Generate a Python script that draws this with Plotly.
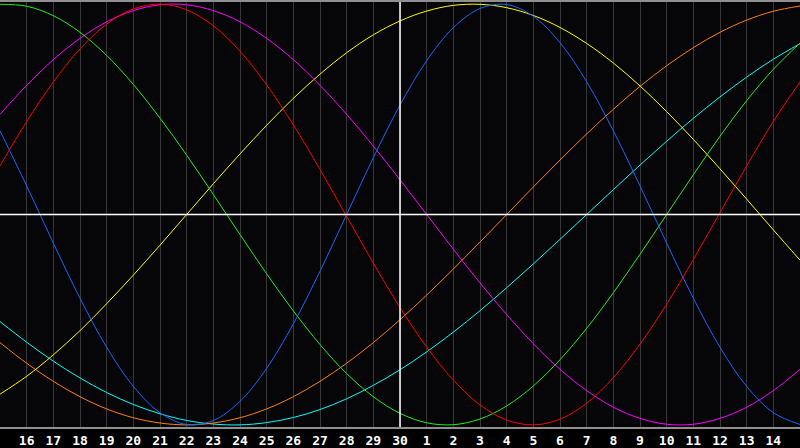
import plotly.graph_objects as go

# day index 0..30 (x=0 is the 15th, x=30 is the 15th of next month)
days = list(range(31))
tick_pos = list(range(1, 30))
tick_labels = [str(d) for d in range(16, 31)] + [str(d) for d in range(1, 15)]
today_pos = 15

red = [0.231, 0.442, 0.630, 0.787, 0.905, 0.977, 1.000, 0.973, 0.897, 0.776, 0.616,
       0.426, 0.214, -0.009, -0.231, -0.442, -0.630, -0.787, -0.905, -0.977, -1.000,
       -0.973, -0.897, -0.776, -0.616, -0.426, -0.214, 0.009, 0.231, 0.442, 0.630]
green = [0.999, 0.990, 0.945, 0.866, 0.756, 0.618, 0.458, 0.282, 0.095, -0.095, -0.282,
         -0.458, -0.618, -0.756, -0.866, -0.945, -0.990, -0.999, -0.972, -0.910, -0.815,
         -0.690, -0.541, -0.372, -0.189, 0.000, 0.189, 0.372, 0.541, 0.690, 0.815]
blue = [0.398, 0.136, -0.136, -0.398, -0.631, -0.817, -0.942, -0.998, -0.979, -0.888, -0.731,
        -0.520, -0.270, 0.000, 0.270, 0.520, 0.731, 0.888, 0.979, 0.998, 0.942,
        0.817, 0.631, 0.398, 0.136, -0.136, -0.398, -0.631, -0.817, -0.942, -0.998]
magenta = [0.476, 0.614, 0.736, 0.837, 0.916, 0.969, 0.997, 0.997, 0.969, 0.916, 0.837,
           0.736, 0.614, 0.476, 0.325, 0.165, 0.000, -0.165, -0.325, -0.476, -0.614,
           -0.736, -0.837, -0.916, -0.969, -0.997, -0.997, -0.969, -0.916, -0.837, -0.736]
yellow = [-0.854, -0.769, -0.667, -0.552, -0.424, -0.288, -0.146, 0.000, 0.146, 0.288, 0.424,
          0.552, 0.667, 0.769, 0.854, 0.920, 0.967, 0.994, 0.999, 0.983, 0.946,
          0.889, 0.813, 0.720, 0.611, 0.489, 0.357, 0.217, 0.073, -0.073, -0.217]
orange = [-0.609, -0.707, -0.793, -0.866, -0.924, -0.966, -0.991, -1.000, -0.991, -0.966, -0.924,
          -0.866, -0.793, -0.707, -0.609, -0.500, -0.383, -0.259, -0.131, 0.000, 0.131,
          0.259, 0.383, 0.500, 0.609, 0.707, 0.793, 0.866, 0.924, 0.966, 0.991]
cyan = [-0.509, -0.607, -0.697, -0.777, -0.846, -0.903, -0.947, -0.979, -0.996, -1.000, -0.989,
        -0.965, -0.927, -0.876, -0.812, -0.738, -0.653, -0.559, -0.457, -0.348, -0.235,
        -0.118, 0.000, 0.118, 0.235, 0.348, 0.457, 0.559, 0.653, 0.738, 0.812]

series = [
    (cyan, "#00ffff"),
    (orange, "#ff8010"),
    (yellow, "#ffff00"),
    (magenta, "#ff00ff"),
    (green, "#22ee22"),
    (blue, "#1a66ff"),
    (red, "#ff0000"),
]

fig = go.Figure()
for vals, col in series:
    fig.add_trace(go.Scatter(x=days, y=vals, mode="lines",
                             line=dict(color=col, width=1, shape="spline"),
                             hoverinfo="skip", showlegend=False))

fig.add_shape(type="line", xref="x", yref="paper", x0=today_pos, x1=today_pos, y0=0, y1=1,
              line=dict(color="#ffffff", width=1.5), layer="above")
fig.add_shape(type="line", xref="paper", yref="y", x0=0, x1=1, y0=0, y1=0,
              line=dict(color="#ffffff", width=1.5), layer="above")

fig.update_layout(
    width=800, height=448,
    margin=dict(l=0, r=0, t=0, b=20),
    paper_bgcolor="#000000",
    plot_bgcolor="#060608",
    showlegend=False,
    xaxis=dict(range=[0, 30], tickmode="array", tickvals=tick_pos, ticktext=tick_labels,
               showgrid=True, gridcolor="#383838", gridwidth=1, zeroline=False,
               showline=True, linecolor="#909090", linewidth=2, mirror=True,
               ticks="", tickfont=dict(family="DejaVu Sans Mono", size=13, color="#ffffff",
                                       weight="bold")),
    yaxis=dict(range=[-1.01, 1.01], showgrid=False, zeroline=False, showticklabels=False,
               showline=True, linecolor="#909090", linewidth=2, ticks=""),
)

fig.write_html(
    "out.html",
    config={"displayModeBar": False, "staticPlot": True},
    post_script="document.body.style.margin='0';document.body.style.padding='0';"
                "document.body.style.background='#000';",
)
